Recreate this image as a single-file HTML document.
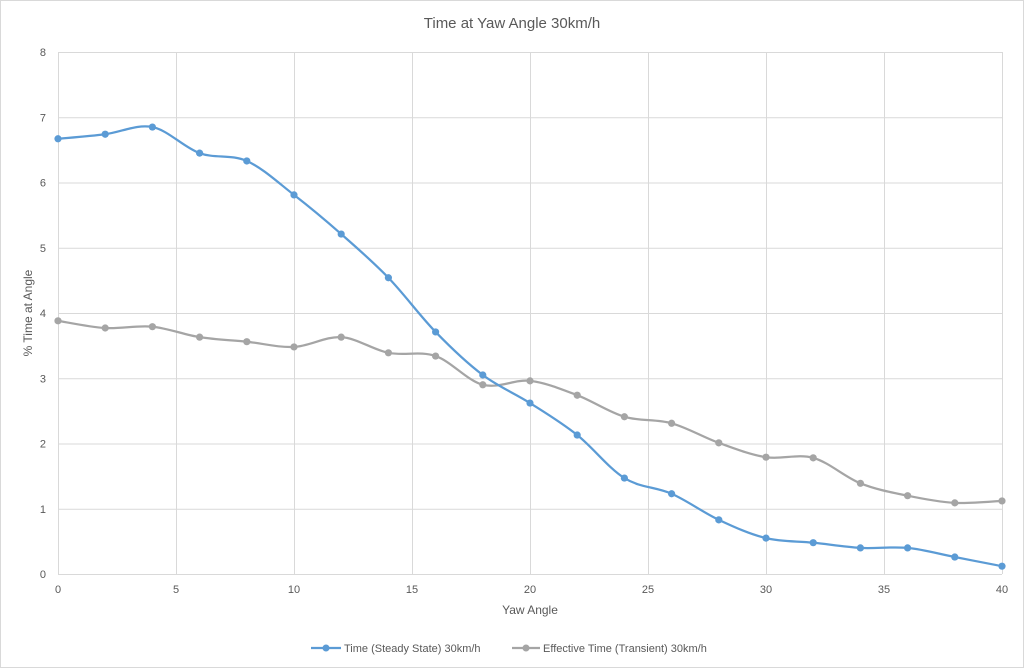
<!DOCTYPE html>
<html><head><meta charset="utf-8"><style>
body{margin:0;background:#fff}
svg{display:block}
text{font-family:"Liberation Sans",sans-serif;fill:#595959}
</style></head><body>
<svg id="s" width="1024" height="669" xmlns="http://www.w3.org/2000/svg">
<rect x="0.5" y="0.5" width="1023" height="667" fill="#fff" stroke="#d9d9d9"/>
<text x="512" y="28" font-size="15" text-anchor="middle">Time at Yaw Angle 30km/h</text>
<g id="grid" stroke="#d9d9d9" stroke-width="1"></g>
<g id="lab" font-size="11"></g>
<text x="530" y="614" font-size="12" text-anchor="middle">Yaw Angle</text>
<text transform="translate(32,313) rotate(-90)" font-size="12" text-anchor="middle">% Time at Angle</text>
<g id="ser"></g>
<line x1="311" y1="648" x2="341" y2="648" stroke="#5b9bd5" stroke-width="2.25"/>
<circle cx="326" cy="648" r="3.5" fill="#5b9bd5"/>
<text x="344" y="652" font-size="11">Time (Steady State) 30km/h</text>
<line x1="512" y1="648" x2="540" y2="648" stroke="#a5a5a5" stroke-width="2.25"/>
<circle cx="526" cy="648" r="3.5" fill="#a5a5a5"/>
<text x="543" y="652" font-size="11">Effective Time (Transient) 30km/h</text>
</svg>
<script>
var X=function(v){return 58+v*23.6},Y=function(v){return 574-v*65.25};
var g=document.getElementById('grid'),l=document.getElementById('lab'),ns='http://www.w3.org/2000/svg',h='';
for(var i=0;i<=8;i++){h+='<line x1="58" x2="1002" y1="'+(Y(i)+.5)+'" y2="'+(Y(i)+.5)+'"/>';}
for(var i=0;i<=40;i+=5){h+='<line y1="52" y2="574" x1="'+(X(i)+.5)+'" x2="'+(X(i)+.5)+'"/>';}
g.innerHTML=h;h='';
for(var i=0;i<=8;i++)h+='<text x="46" y="'+(Y(i)+4)+'" text-anchor="end">'+i+'</text>';
for(var i=0;i<=40;i+=5)h+='<text x="'+X(i)+'" y="593" text-anchor="middle">'+i+'</text>';
l.innerHTML=h;
var b=[6.67,6.74,6.85,6.45,6.33,5.81,5.21,4.54,3.71,3.05,2.62,2.13,1.47,1.23,0.83,0.55,0.48,0.40,0.40,0.26,0.12];
var gr=[3.88,3.77,3.79,3.63,3.56,3.48,3.63,3.39,3.34,2.90,2.96,2.74,2.41,2.31,2.01,1.79,1.78,1.39,1.20,1.09,1.12];
function path(d,c){var p=d.map(function(v,i){return [X(i*2),Y(v)]});var s='M'+p[0];
for(var i=0;i<p.length-1;i++){var p0=p[i-1]||p[i],p1=p[i],p2=p[i+1],p3=p[i+2]||p2,t=1/6;
s+=' C'+(p1[0]+(p2[0]-p0[0])*t)+','+(p1[1]+(p2[1]-p0[1])*t)+' '+(p2[0]-(p3[0]-p1[0])*t)+','+(p2[1]-(p3[1]-p1[1])*t)+' '+p2;}
var o='<path d="'+s+'" fill="none" stroke="'+c+'" stroke-width="2.25"/>';
p.forEach(function(q){o+='<circle cx="'+q[0]+'" cy="'+q[1]+'" r="3.6" fill="'+c+'"/>'});return o;}
document.getElementById('ser').innerHTML=path(gr,'#a5a5a5')+path(b,'#5b9bd5');
</script>
</body></html>
